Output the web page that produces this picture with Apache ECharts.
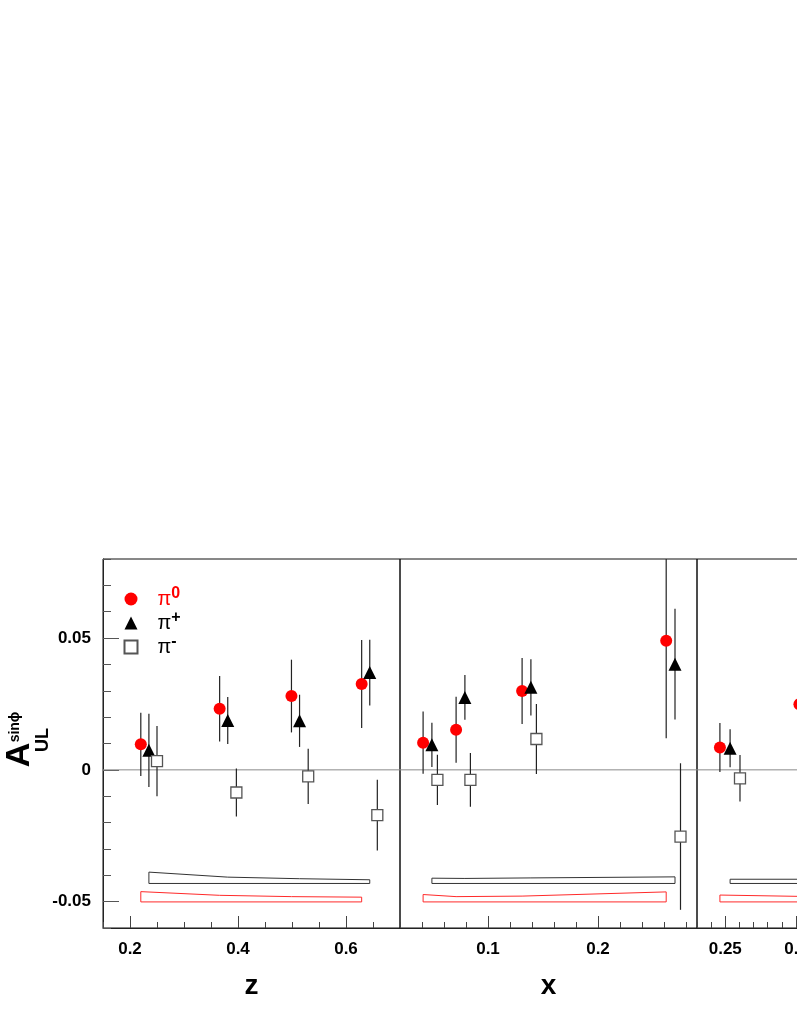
<!DOCTYPE html>
<html>
<head>
<meta charset="utf-8">
<title>A_UL sin phi vs z, x, P_h</title>
<script src="https://cdn.jsdelivr.net/npm/echarts@6/dist/echarts.min.js"></script>
<style>
  html, body { margin: 0; padding: 0; background: #fff; }
  #chart { width: 797px; height: 1032px; }
</style>
</head>
<body>
<div id="chart"></div>
<script>
// values: point position, asymmetry, stat. error, syst. band width

// z panel
const zPi0X = [0.220, 0.366, 0.499, 0.629];
const zPi0Y = [0.0097, 0.0232, 0.0280, 0.0326];
const zPi0Err = [0.0120, 0.0124, 0.0138, 0.0167];
const zPi0Sys = [0.0039, 0.0025, 0.0020, 0.0018];
const zPipX = [0.235, 0.381, 0.514, 0.644];
const zPipY = [0.0074, 0.0187, 0.0186, 0.0369];
const zPipErr = [0.0139, 0.0089, 0.0099, 0.0125];
const zPipSys = [0.0043, 0.0024, 0.0018, 0.0014];
const zPimX = [0.250, 0.397, 0.530, 0.658];
const zPimY = [0.0033, -0.0086, -0.0025, -0.0172];
const zPimErr = [0.0133, 0.0091, 0.0105, 0.0134];

// x panel
const xPi0X = [0.041, 0.071, 0.131, 0.262];
const xPi0Y = [0.0103, 0.0152, 0.0299, 0.0490];
const xPi0Err = [0.0118, 0.0125, 0.0125, 0.0370];
const xPi0Sys = [0.0028, 0.0020, 0.0022, 0.0038];
const xPipX = [0.049, 0.079, 0.139, 0.270];
const xPipY = [0.0095, 0.0275, 0.0313, 0.0401];
const xPipErr = [0.0084, 0.0085, 0.0107, 0.0210];
const xPipSys = [0.0020, 0.0019, 0.0021, 0.0025];
const xPimX = [0.054, 0.084, 0.144, 0.275];
const xPimY = [-0.0038, -0.0038, 0.0117, -0.0253];
const xPimErr = [0.0095, 0.0102, 0.0133, 0.0278];

// P_h panel (only its left edge is inside the picture)
const pPi0X = [0.231, 0.512];
const pPi0Y = [0.0085, 0.0249];
const pPi0Err = [0.0093, 0.0110];
const pPi0Sys = [0.0026, 0.0021];
const pPipX = [0.267];
const pPipY = [0.0082];
const pPipErr = [0.0072];
const pPipSysX = [0.267, 0.550];
const pPipSys = [0.0016, 0.0016];
const pPimX = [0.302];
const pPimY = [-0.0032];
const pPimErr = [0.0088];

// baselines of the systematic bands
const sysBasePi0 = -0.0501;
const sysBasePip = -0.0431;

// tick labels
const yTicks = [-0.05, 0, 0.05];
const zTicks = [0.2, 0.4, 0.6];
const xTicks = [0.1, 0.2];
const pTicks = [0.25, 0.5, 0.75, 1];

const Y_MIN = -0.06, Y_MAX = 0.08;
const FONT = '"Liberation Sans", Arial, Helvetica, sans-serif';

const panels = [
  { left: 103, min: 0.15, max: 0.7, step: 0.05, ticks: zTicks, name: 'z' },
  { left: 400, min: 0.02, max: 0.29, step: 0.02, ticks: xTicks, name: 'x' },
  { left: 697, min: 0.15, max: 1.2, step: 0.05, ticks: pTicks, name: '' }
];

function errData(xs, ys, errs) {
  return xs.map((x, i) => [x, ys[i] - errs[i], ys[i] + errs[i]]);
}

function pointData(xs, ys) {
  return xs.map((x, i) => [x, ys[i]]);
}

// closed outline: flat bottom at base, top edge at base + width
function bandData(xs, widths, base) {
  const top = xs.map((x, i) => [x, base + widths[i]]);
  return [[xs[0], base]].concat(top, [[xs[xs.length - 1], base], [xs[0], base]]);
}

function renderErrorBar(params, api) {
  const x = api.value(0);
  const lo = Math.max(api.value(1), Y_MIN);
  const hi = Math.min(api.value(2), Y_MAX);
  const p1 = api.coord([x, lo]);
  const p2 = api.coord([x, hi]);
  return {
    type: 'line',
    shape: { x1: p1[0], y1: p1[1], x2: p2[0], y2: p2[1] },
    style: { stroke: '#222', lineWidth: 1.2 }
  };
}

// the third panel runs past the right edge of the picture
const grids = panels.map(p => ({
  left: p.left, top: 559, width: 297, height: 369,
  containLabel: false, outerBoundsMode: 'none',
  show: true, borderColor: '#111', borderWidth: 1, backgroundColor: 'transparent'
}));

const xAxes = [];
panels.forEach((p, i) => {
  xAxes.push({
    type: 'value', gridIndex: i, position: 'bottom',
    min: p.min, max: p.max, interval: p.step,
    name: p.name, nameLocation: 'middle', nameGap: 44,
    nameTextStyle: { fontFamily: FONT, fontWeight: 'bold', fontSize: 28, color: '#000' },
    axisLine: { onZero: false, lineStyle: { color: '#222', width: 1 } },
    axisTick: { inside: true, length: 6, lineStyle: { color: '#444' } },
    axisLabel: {
      customValues: p.ticks, margin: 13,
      fontFamily: FONT, fontWeight: 'bold', fontSize: 17, color: '#000'
    },
    splitLine: { show: false }
  });
});
panels.forEach((p, i) => {
  // longer ticks at the labelled values
  xAxes.push({
    type: 'value', gridIndex: i, position: 'bottom',
    min: p.min, max: p.max,
    axisLine: { show: false, onZero: false },
    axisTick: { inside: true, length: 12, customValues: p.ticks, lineStyle: { color: '#444' } },
    axisLabel: { show: false },
    splitLine: { show: false }
  });
});

const yAxes = panels.map((p, i) => ({
  type: 'value', gridIndex: i, position: 'left',
  min: Y_MIN, max: Y_MAX, interval: 0.01,
  show: i === 0,
  axisLine: { onZero: false, lineStyle: { color: '#222', width: 1 } },
  axisTick: { inside: true, length: 8, lineStyle: { color: '#555' } },
  axisLabel: {
    customValues: yTicks, margin: 12,
    fontFamily: FONT, fontWeight: 'bold', fontSize: 17, color: '#000'
  },
  splitLine: { show: false }
}));
yAxes.push({
  type: 'value', gridIndex: 0, position: 'left', offset: 0,
  min: Y_MIN, max: Y_MAX,
  axisLine: { show: false, onZero: false },
  axisTick: { inside: true, length: 16, customValues: yTicks, lineStyle: { color: '#555' } },
  axisLabel: { show: false },
  splitLine: { show: false }
});

const sets = [
  { pi0: [zPi0X, zPi0Y, zPi0Err, zPi0Sys, zPi0X], pip: [zPipX, zPipY, zPipErr, zPipSys, zPipX], pim: [zPimX, zPimY, zPimErr] },
  { pi0: [xPi0X, xPi0Y, xPi0Err, xPi0Sys, xPi0X], pip: [xPipX, xPipY, xPipErr, xPipSys, xPipX], pim: [xPimX, xPimY, xPimErr] },
  { pi0: [pPi0X, pPi0Y, pPi0Err, pPi0Sys, pPi0X], pip: [pPipX, pPipY, pPipErr, pPipSys, pPipSysX], pim: [pPimX, pPimY, pPimErr] }
];

const series = [];
sets.forEach((s, i) => {
  const axes = { xAxisIndex: i, yAxisIndex: i };
  series.push({
    name: 'zero', type: 'line', ...axes, silent: true, symbol: 'none', z: 1,
    data: [[panels[i].min, 0], [panels[i].max, 0]],
    lineStyle: { color: '#8a8a8a', width: 1 }
  });
  series.push({
    name: 'sys π0', type: 'line', ...axes, silent: true, symbol: 'none', z: 2,
    data: bandData(s.pi0[4], s.pi0[3], sysBasePi0),
    lineStyle: { color: '#ff2a2a', width: 1 }
  });
  series.push({
    name: 'sys π+', type: 'line', ...axes, silent: true, symbol: 'none', z: 2,
    data: bandData(s.pip[4], s.pip[3], sysBasePip),
    lineStyle: { color: '#333', width: 1 }
  });
  [['π0', s.pi0], ['π+', s.pip], ['π-', s.pim]].forEach(([n, d]) => {
    series.push({
      name: n + ' err', type: 'custom', ...axes, z: 2, silent: true,
      renderItem: renderErrorBar,
      encode: { x: 0, y: [1, 2] },
      data: errData(d[0], d[1], d[2])
    });
  });
  series.push({
    name: 'π0', type: 'scatter', ...axes, z: 4,
    symbol: 'circle', symbolSize: 12,
    itemStyle: { color: '#ff0000', opacity: 1 },
    data: pointData(s.pi0[0], s.pi0[1])
  });
  series.push({
    name: 'π+', type: 'scatter', ...axes, z: 4,
    symbol: 'triangle', symbolSize: 13,
    itemStyle: { color: '#000', opacity: 1 },
    data: pointData(s.pip[0], s.pip[1])
  });
  series.push({
    name: 'π-', type: 'scatter', ...axes, z: 4,
    symbol: 'rect', symbolSize: 11,
    itemStyle: { color: '#fff', borderColor: '#555', borderWidth: 1.3, opacity: 1 },
    data: pointData(s.pim[0], s.pim[1])
  });
});

const supOf = { 'π0': '0', 'π+': '+', 'π-': '-' };

const chart = echarts.init(document.getElementById('chart'), null, { renderer: 'canvas' });
chart.setOption({
  animation: false,
  backgroundColor: '#fff',
  grid: grids,
  xAxis: xAxes,
  yAxis: yAxes,
  legend: {
    orient: 'vertical', left: 123.5, top: 586, padding: 0, itemGap: 1,
    itemWidth: 13, itemHeight: 13,
    data: [
      { name: 'π0', textStyle: { color: '#ff0000' } },
      { name: 'π+' },
      { name: 'π-' }
    ],
    formatter: name => name === 'π0'
      ? '{pr|π}{sr|' + supOf[name] + '}'
      : '{p|π}{s|' + supOf[name] + '}',
    textStyle: {
      color: '#000', padding: [0, 0, 0, 15],
      rich: {
        p: { fontFamily: FONT, fontSize: 20, lineHeight: 26, color: '#000' },
        s: { fontFamily: FONT, fontSize: 16, fontWeight: 'bold', lineHeight: 4, verticalAlign: 'top', color: '#000' },
        pr: { fontFamily: FONT, fontSize: 20, lineHeight: 26, color: '#ff0000' },
        sr: { fontFamily: FONT, fontSize: 16, fontWeight: 'bold', lineHeight: 4, verticalAlign: 'top', color: '#ff0000' }
      }
    }
  },
  graphic: [
    {
      type: 'text', x: 20, y: 755, rotation: Math.PI / 2,
      style: { text: 'A', font: 'bold 34px ' + FONT, fill: '#000', align: 'center', verticalAlign: 'middle', textAlign: 'center', textVerticalAlign: 'middle' }
    },
    {
      type: 'text', x: 15, y: 727, rotation: Math.PI / 2,
      style: { text: 'sinϕ', font: 'bold 14px ' + FONT, fill: '#000', align: 'center', verticalAlign: 'middle', textAlign: 'center', textVerticalAlign: 'middle' }
    },
    {
      type: 'text', x: 43, y: 740, rotation: Math.PI / 2,
      style: { text: 'UL', font: 'bold 18px ' + FONT, fill: '#000', align: 'center', verticalAlign: 'middle', textAlign: 'center', textVerticalAlign: 'middle' }
    }
  ],
  series: series
});
</script>
</body>
</html>
